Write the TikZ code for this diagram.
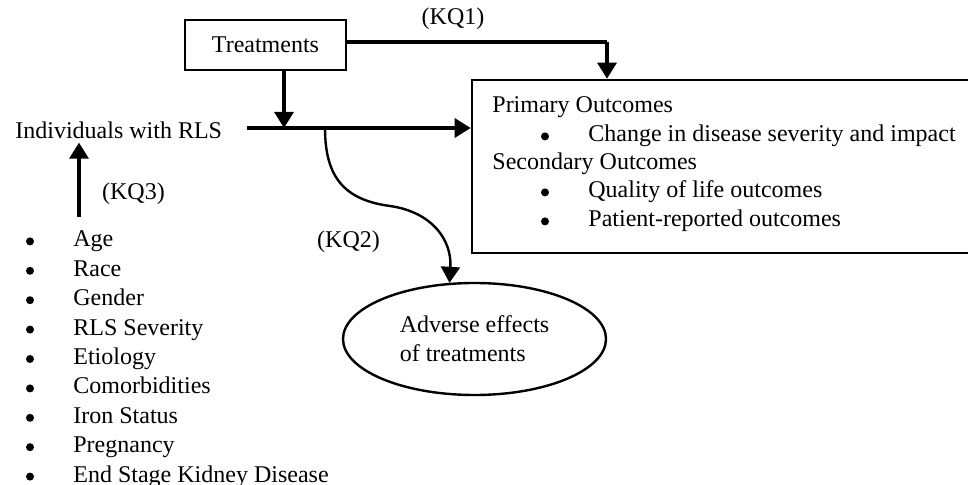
\documentclass[tikz,border=0pt]{standalone}
\usepackage{fontspec}
\setmainfont{Liberation Serif}
\usepackage{tikz}
\usetikzlibrary{arrows.meta}
\usetikzlibrary{shapes.geometric}
\usetikzlibrary{positioning}

\begin{document}
\begin{tikzpicture}[x=0.5pt, y=-0.5pt,
  every node/.style={font=\fontsize{12pt}{14.6pt}\selectfont},
  box/.style={draw, rectangle, line width=1.3pt, inner sep=0pt},
  txt/.style={anchor=base west, inner sep=0pt},
  bul/.style={circle, fill, inner sep=0pt, minimum size=4pt, yshift=2.8pt},
  lab/.style={anchor=base, inner sep=0pt},
  arr/.style={line width=1.6pt, -{Triangle[length=8pt, width=9.5pt]}}]
  \useasboundingbox (0,0) rectangle (968,485);

  \node[box, minimum width=80.5pt, minimum height=25pt] (trt) at (265.5,45) {Treatments};
  \node[box, minimum width=249pt, minimum height=86.5pt] (out) at (721,166.5) {};
  \node[draw, ellipse, line width=1.2pt, minimum width=131.5pt, minimum height=56pt,
        align=left, font=\fontsize{12pt}{14.5pt}\selectfont] (adv) at (474.5,339)
        {Adverse effects\\of treatments};
  \node[txt, inner sep=1.5pt] (rls) at (12,139) {Individuals with RLS};

  \node[lab] (kq1) at (453,25) {(KQ1)};
  \node[lab] (kq2) at (348.5,248) {(KQ2)};
  \node[lab] (kq3) at (133.5,200) {(KQ3)};

  \node[txt] (p0) at (492,113) {Primary Outcomes};
  \node[bul] (pb1) at (545,142) {};
  \node[txt] (p1) at (588,142) {Change in disease severity and impact};
  \node[txt] (s0) at (492,170) {Secondary Outcomes};
  \node[bul] (sb1) at (545,198) {};
  \node[txt] (s1) at (588,198) {Quality of life outcomes};
  \node[bul] (sb2) at (545,227) {};
  \node[txt] (s2) at (588,227) {Patient-reported outcomes};

  \node[bul] (b1) at (30,247) {};
  \node[txt] (f1) at (73,247) {Age};
  \node[bul] (b2) at (30,276.4) {};
  \node[txt] (f2) at (73,276.4) {Race};
  \node[bul] (b3) at (30,305.8) {};
  \node[txt] (f3) at (73,305.8) {Gender};
  \node[bul] (b4) at (30,335.2) {};
  \node[txt] (f4) at (73,335.2) {RLS Severity};
  \node[bul] (b5) at (30,364.6) {};
  \node[txt] (f5) at (73,364.6) {Etiology};
  \node[bul] (b6) at (30,394) {};
  \node[txt] (f6) at (73,394) {Comorbidities};
  \node[bul] (b7) at (30,423.4) {};
  \node[txt] (f7) at (73,423.4) {Iron Status};
  \node[bul] (b8) at (30,452.8) {};
  \node[txt] (f8) at (73,452.8) {Pregnancy};
  \node[bul] (b9) at (30,482.2) {};
  \node[txt] (f9) at (73,482.2) {End Stage Kidney Disease};

  \coordinate (hs) at (247,128);
  \coordinate (j1) at (284,128);
  \coordinate (j2) at (325,128);
  \coordinate (k1) at (607,42);
  \coordinate (k3) at (79,217);

  \draw[arr] (hs) -- (out.west |- hs);
  \draw[arr] (trt.south -| j1) -- (j1);
  \draw[line width=1.6pt] (trt.east |- k1) -- (k1);
  \draw[arr] (k1) -- (out.north -| k1);
  \draw[arr] (k3) -- (rls.south -| k3);
  \draw[line width=1.2pt, -{Triangle[length=8pt, width=9.5pt]}] (j2)
    .. controls (325,178) and (345,200) .. (390,206)
    .. controls (432,212) and (452,240) .. (adv.114);
\end{tikzpicture}
\end{document}
